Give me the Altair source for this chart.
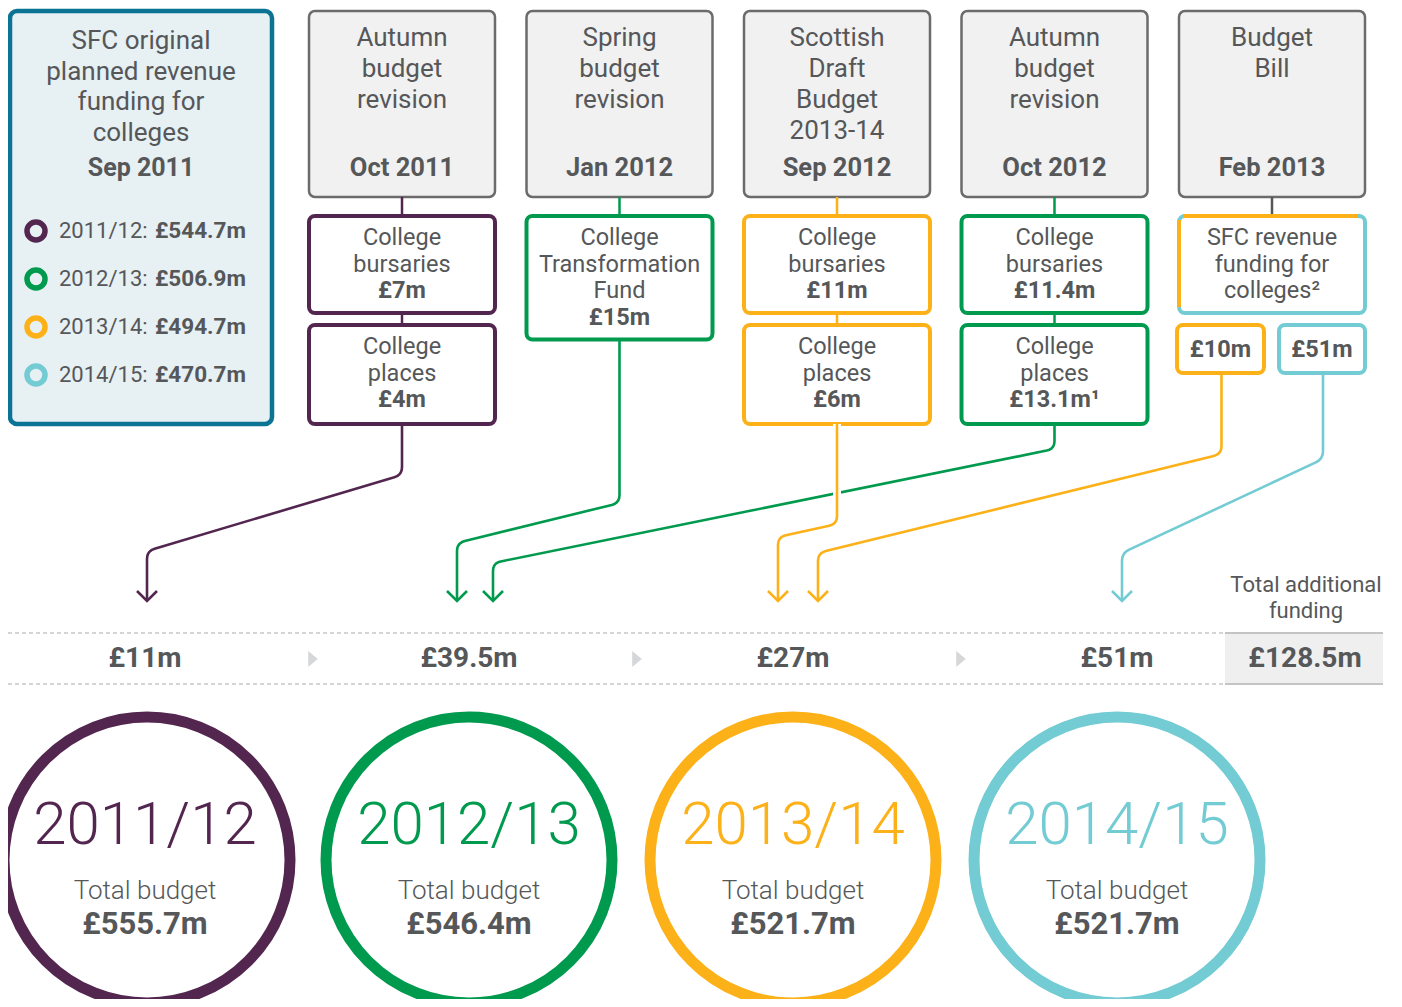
import altair as alt
import pandas as pd

# ---------------- data ----------------
years = ["2011/12", "2012/13", "2013/14", "2014/15"]
year_colors = ["#532650", "#009a4e", "#fdb119", "#73cbd3"]
planned_funding = [544.7, 506.9, 494.7, 470.7]          # £m, SFC original plan Sep 2011
additional_funding = [11, 39.5, 27, 51]                  # £m added per year
total_additional = 128.5                                 # £m
total_budget = [555.7, 546.4, 521.7, 521.7]              # £m

legend_title = ["SFC original", "planned revenue", "funding for", "colleges"]
legend_date = "Sep 2011"

stage_titles = [
    ["Autumn", "budget", "revision"],
    ["Spring", "budget", "revision"],
    ["Scottish", "Draft", "Budget", "2013-14"],
    ["Autumn", "budget", "revision"],
    ["Budget", "Bill"],
]
stage_dates = ["Oct 2011", "Jan 2012", "Sep 2012", "Oct 2012", "Feb 2013"]

item_stage = [0, 0, 1, 2, 2, 3, 3, 4]
item_slot = [0, 1, 0, 0, 1, 0, 1, 0]
item_year = [0, 0, 1, 2, 2, 1, 1, -1]
item_lines = [
    ["College", "bursaries"],
    ["College", "places"],
    ["College", "Transformation", "Fund"],
    ["College", "bursaries"],
    ["College", "places"],
    ["College", "bursaries"],
    ["College", "places"],
    ["SFC revenue", "funding for", "colleges²"],
]
item_value = [7, 4, 15, 11, 6, 11.4, 13.1, None]        # £m
item_note = ["", "", "", "", "", "", "¹", ""]
split_value = [10, 51]                                   # £m of the Budget Bill funding
split_year = [2, 3]

# flows: (source stage / split, destination year)
flow_source = ["s0", "s1", "s2", "s3", "p0", "p1"]
flow_year = [0, 1, 2, 1, 2, 3]

total_label = ["Total additional", "funding"]
budget_label = "Total budget"

# ---------------- layout (page pixels) ----------------
W, H = 1386, 991
OX, OY = 8, 8
TXT = "#555759"
FONT = "Roboto"
STAGE_X0, STAGE_STEP, BOX_W = 309, 217.5, 186
HEAD_Y0, HEAD_Y1 = 11, 197
SLOT_Y0 = [216, 325]
LINE_H = 26.5
YEAR_CX = [145 + 324 * i for i in range(4)]
TOTAL_CX = 1305
BAND_Y0, BAND_Y1, BAND_YM = 633, 684, 659
ARROW_Y = 601
FLOW_ARROW_X = [147, 457, 778, 493, 818, 1122]
FLOW_BEND_TOP = [475, 503, 524, 449, 454, 459]
FLOW_BEND_BOT = [551, 543, 537, 563, 553, 553]
SPLIT_BOX = [(1177, 1264), (1279, 1365)]
SPLIT_Y = (325, 373)
CIRCLE_CY = 860
CIRCLE_D = 286
HALO_FLOW = 2

xs = alt.Scale(domain=[OX, OX + W], nice=False, zero=False)
ys = alt.Scale(domain=[OY, OY + H], nice=False, zero=False, reverse=True)


def fm(v):
    return f"£{v:g}m"


rects, texts, rules, rings = [], [], [], []


def add_text(x, y, t, fs, color=TXT, w="normal", align="center"):
    texts.append(dict(x=x, y=y, text=t, fs=fs, color=color, w=w, align=align))


# legend box
rects.append(dict(x=10, x2=272, y=11, y2=424, fill="#e7f0f3", stroke="#0b7393", sw=4.5, cr=7))
for k, t in enumerate(legend_title):
    add_text(141, 41 + 30.7 * k, t, 26)
add_text(141, 168, legend_date, 25, w="bold")
for i, yr in enumerate(years):
    yy = 231 + 48 * i
    rings.append(dict(x=36, y=yy, size=324, color=year_colors[i], sw=5.5))
    add_text(59, yy, f"{yr}:", 22, align="left")
    add_text(155, yy, fm(planned_funding[i]), 22.5, w="bold", align="left")

# stage headers
stage_cx = []
for i in range(5):
    x0 = STAGE_X0 + i * STAGE_STEP
    cx = x0 + BOX_W / 2
    stage_cx.append(cx)
    rects.append(dict(x=x0, x2=x0 + BOX_W, y=HEAD_Y0, y2=HEAD_Y1, fill="#f1f1f1", stroke="#6b6b6b", sw=2.5, cr=6))
    for k, t in enumerate(stage_titles[i]):
        add_text(cx, 38 + 31 * k, t, 26)
    add_text(cx, 168, stage_dates[i], 25.5, w="bold")

# item boxes
stage_bottom = {}
for j in range(len(item_stage)):
    s = item_stage[j]
    x0 = STAGE_X0 + s * STAGE_STEP
    cx = stage_cx[s]
    n = len(item_lines[j]) + (1 if item_value[j] is not None else 0)
    y0 = SLOT_Y0[item_slot[j]]
    y1 = y0 + 44 + LINE_H * (n - 1) + (2 if item_slot[j] else 0)
    col = year_colors[item_year[j]] if item_year[j] >= 0 else year_colors[3]
    rects.append(dict(x=x0, x2=x0 + BOX_W, y=y0, y2=y1, fill="white", stroke=col, sw=4, cr=6))
    conn_col = col if item_year[j] >= 0 else "#555759"
    top = HEAD_Y1 if item_slot[j] == 0 else stage_bottom[s]
    rules.append(dict(x=cx, x2=cx, y=top, y2=y0, color=conn_col, sw=2.5))
    for k, t in enumerate(item_lines[j]):
        add_text(cx, y0 + 22 + LINE_H * k, t, 23.5)
    if item_value[j] is not None:
        add_text(cx, y0 + 22 + LINE_H * len(item_lines[j]), fm(item_value[j]) + item_note[j], 23.5, w="bold")
    if item_year[j] < 0:
        # two-coloured border: top and left edges belong to 2013/14
        rules.append(dict(x=x0 + 4, x2=x0 + BOX_W - 8, y=y0, y2=y0, color=year_colors[2], sw=4))
        rules.append(dict(x=x0, x2=x0, y=y0 + 4, y2=y1 - 6, color=year_colors[2], sw=4))
    stage_bottom[s] = y1

# split boxes
split_cx = []
for k, (a, b) in enumerate(SPLIT_BOX):
    col = year_colors[split_year[k]]
    rects.append(dict(x=a, x2=b, y=SPLIT_Y[0], y2=SPLIT_Y[1], fill="white", stroke=col, sw=4, cr=6))
    split_cx.append((a + b) / 2 + 1)
    add_text((a + b) / 2, (SPLIT_Y[0] + SPLIT_Y[1]) / 2 + 0.5, fm(split_value[k]), 23.5, w="bold")


# flows with rounded corners
def rounded(pts, r=8, steps=5):
    out = [pts[0]]
    for k in range(1, len(pts) - 1):
        (ax, ay), (bx, by), (cx_, cy_) = pts[k - 1], pts[k], pts[k + 1]
        d1 = ((bx - ax) ** 2 + (by - ay) ** 2) ** 0.5
        d2 = ((cx_ - bx) ** 2 + (cy_ - by) ** 2) ** 0.5
        p = (bx - (bx - ax) / d1 * r, by - (by - ay) / d1 * r)
        q = (bx + (cx_ - bx) / d2 * r, by + (cy_ - by) / d2 * r)
        for s in range(steps + 1):
            t = s / steps
            out.append(((1 - t) ** 2 * p[0] + 2 * (1 - t) * t * bx + t * t * q[0],
                        (1 - t) ** 2 * p[1] + 2 * (1 - t) * t * by + t * t * q[1]))
    out.append(pts[-1])
    return out


lines, arrows = [], []
for f, src in enumerate(flow_source):
    if src.startswith("s"):
        s = int(src[1:])
        sx, sy = stage_cx[s], stage_bottom[s]
    else:
        p = int(src[1:])
        sx, sy = split_cx[p], SPLIT_Y[1]
    ax = FLOW_ARROW_X[f]
    pts = rounded([(sx, sy), (sx, FLOW_BEND_TOP[f]), (ax, FLOW_BEND_BOT[f]), (ax, ARROW_Y)])
    col = year_colors[flow_year[f]]
    for o, (px, py) in enumerate(pts):
        lines.append(dict(id=f, o=o, x=px, y=py, color=col))
    arrows.append(dict(x=ax, y=ARROW_Y, color=col))

# band
band_dash = pd.DataFrame([dict(x=OX, x2=1225, y=yy, y2=yy) for yy in (BAND_Y0, BAND_Y1)])
rects.append(dict(x=1225, x2=1383, y=BAND_Y0, y2=BAND_Y1, fill="#efefef", stroke="#efefef", sw=0, cr=0))
for yy in (BAND_Y0, BAND_Y1):
    rules.append(dict(x=1225, x2=1383, y=yy, y2=yy, color="#c4c4c4", sw=2))
for i in range(4):
    add_text(YEAR_CX[i], BAND_YM, fm(additional_funding[i]), 28, w="bold")
add_text(TOTAL_CX, BAND_YM, fm(total_additional), 28, w="bold")
for k, t in enumerate(total_label):
    add_text(TOTAL_CX + 1, 585 + 26 * k, t, 22)
tris = pd.DataFrame([dict(x=YEAR_CX[i] + 168, y=BAND_YM) for i in range(3)])

# circles
for i in range(4):
    rings.append(dict(x=YEAR_CX[i] + (2 if i == 0 else 0), y=CIRCLE_CY, size=CIRCLE_D ** 2, color=year_colors[i], sw=11))
    add_text(YEAR_CX[i], 826, years[i], 60, color=year_colors[i], w="light")
    add_text(YEAR_CX[i], 891, budget_label, 26, w="light")
    add_text(YEAR_CX[i], 925, fm(total_budget[i]), 31, w="bold")

# ---------------- chart ----------------
rect_df = pd.DataFrame(rects)
text_df = pd.DataFrame(texts)
rule_df = pd.DataFrame(rules)
ring_df = pd.DataFrame(rings)
line_df = pd.DataFrame(lines)
arrow_df = pd.DataFrame(arrows)
halo_df = line_df[line_df.id == HALO_FLOW]

X = alt.X("x:Q", scale=xs, axis=None)
Y = alt.Y("y:Q", scale=ys, axis=None)

layers = []
for cr in sorted(rect_df.cr.unique()):
    sub = rect_df[rect_df.cr == cr]
    layers.append(
        alt.Chart(sub).mark_rect(cornerRadius=float(cr)).encode(
            x=X, x2="x2:Q", y=Y, y2="y2:Q",
            fill=alt.Fill("fill:N", scale=None),
            stroke=alt.Stroke("stroke:N", scale=None),
            strokeWidth=alt.StrokeWidth("sw:Q", scale=None),
        )
    )

layers.append(
    alt.Chart(band_dash).mark_rule(color="#c8c8c8", strokeWidth=1.5, strokeDash=[4, 3]).encode(
        x=X, x2="x2:Q", y=Y, y2="y2:Q")
)
layers.append(
    alt.Chart(rule_df).mark_rule(strokeCap="butt").encode(
        x=X, x2="x2:Q", y=Y, y2="y2:Q",
        color=alt.Color("color:N", scale=None),
        strokeWidth=alt.StrokeWidth("sw:Q", scale=None))
)
layers.append(
    alt.Chart(line_df).mark_line(strokeWidth=2.6, strokeJoin="round").encode(
        x=X, y=Y, order="o:Q", detail="id:N", color=alt.Color("color:N", scale=None))
)
# white halo where the 2013/14 line crosses the 2012/13 line
layers.append(
    alt.Chart(halo_df).mark_line(strokeWidth=8, color="white", strokeCap="butt").encode(
        x=X, y=Y, order="o:Q", detail="id:N")
)
layers.append(
    alt.Chart(halo_df).mark_line(strokeWidth=2.6, strokeJoin="round").encode(
        x=X, y=Y, order="o:Q", detail="id:N", color=alt.Color("color:N", scale=None))
)
layers.append(
    alt.Chart(arrow_df).mark_point(shape="M-1,-1L0,0L1,-1", filled=False, size=400, strokeWidth=2.6, opacity=1).encode(
        x=X, y=Y, color=alt.Color("color:N", scale=None))
)
layers.append(
    alt.Chart(tris).mark_point(shape="M-0.6,-1L0.6,0L-0.6,1Z", filled=True, size=256, color="#d6d7d9", opacity=1).encode(
        x=X, y=Y)
)
layers.append(
    alt.Chart(ring_df).mark_point(shape="circle", filled=False, opacity=1).encode(
        x=X, y=Y,
        size=alt.Size("size:Q", scale=None),
        strokeWidth=alt.StrokeWidth("sw:Q", scale=None),
        color=alt.Color("color:N", scale=None))
)
weights = {"normal": 400, "bold": 700, "light": 300}
for (w, al), sub in text_df.groupby(["w", "align"]):
    layers.append(
        alt.Chart(sub).mark_text(font=FONT, fontWeight=weights[w], align=al, baseline="middle").encode(
            x=X, y=Y, text="text:N",
            size=alt.Size("fs:Q", scale=None),
            color=alt.Color("color:N", scale=None))
    )

chart = alt.layer(*layers).properties(
    width=W, height=H, padding=0, autosize=alt.AutoSizeParams(type="none")
).configure_view(stroke=None)

chart.save("out.html", embed_options={"renderer": "svg", "actions": False})
